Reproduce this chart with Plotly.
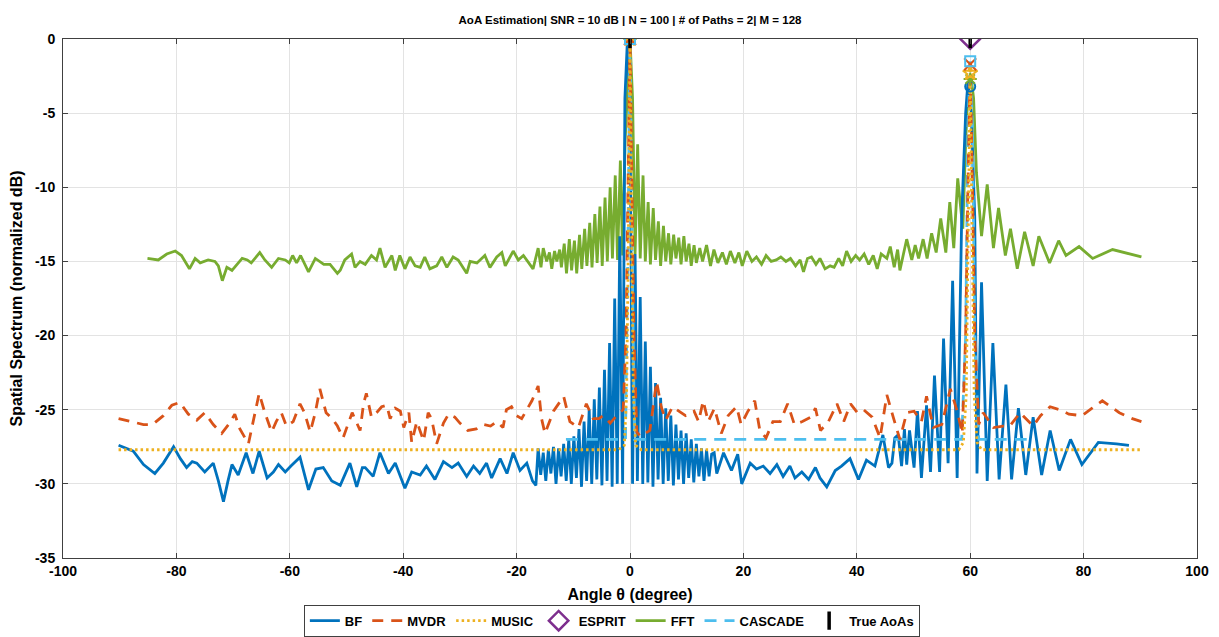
import plotly.graph_objects as go

# ---------------- data ----------------
bf_deg = [-90.2, -88.8, -87.6, -85.8, -83.8, -82.3, -80.5, -79.3, -78.2, -77.2, -76.4, -75.0,
          -73.5, -72.6, -71.7, -70.9, -70.2, -69.1, -67.7, -66.5, -65.4, -64.0, -62.9, -62.0,
          -60.8, -59.8, -58.2, -56.7, -55.4, -54.1, -52.6, -51.1, -49.4, -48.2, -47.2, -46.7,
          -45.3, -44.1, -42.6, -41.4, -39.7, -38.5, -37.0, -35.9, -34.4, -32.9, -31.4, -30.3,
          -28.8, -27.6, -26.5, -25.3, -24.4, -22.9, -21.7, -20.6, -19.4, -18.2, -17.2, -16.6,
          -16.2, -15.75, -15.3, -14.85, -14.4, -13.95, -13.5, -13.05, -12.6, -12.15, -11.7,
          -11.25, -10.8, -10.35, -9.9, -9.45, -9.0, -8.55, -8.1, -7.65, -7.2, -6.75, -6.3,
          -5.85, -5.4, -4.95, -4.5, -4.05, -3.6, -3.15, -2.7, -2.25, -1.8, -1.3, -0.9, -0.45,
          0.0, 0.45, 0.9, 1.3, 1.8, 2.25, 2.7, 3.15, 3.6, 4.05, 4.5, 4.95, 5.4, 5.85, 6.3, 6.75,
          7.2, 7.65, 8.1, 8.55, 9.0, 9.45, 9.9, 10.35, 10.8, 11.25, 11.7, 12.15, 12.6, 13.05,
          13.5, 13.95, 14.4, 14.85, 15.3, 16.5, 17.9, 19.0, 19.7, 21.2, 22.3, 23.5, 24.7, 25.9,
          27.0, 28.2, 29.1, 30.3, 31.5, 32.7, 33.5, 34.7, 36.2, 37.3, 38.8, 40.3, 41.7, 43.2,
          44.6, 45.6, 46.2, 46.7, 47.3, 47.9, 48.4, 48.8, 49.3, 50.1, 50.7, 51.4, 52.3, 53.0,
          53.7, 54.6, 55.3, 56.1, 56.9, 57.7, 58.5, 59.2, 59.6, 60.2, 60.8, 61.2, 62.0, 63.0,
          64.0, 65.1, 66.3, 67.3, 68.5, 69.8, 71.1, 72.6, 74.1, 75.7, 77.7, 79.7, 82.6, 85.8,
          88.0, 90.2]
bf_db = [-27.4, -27.6, -27.8, -28.7, -29.3, -28.6, -27.5, -28.3, -28.9, -28.5, -28.6, -29.2,
         -28.6, -29.8, -31.2, -29.8, -28.7, -29.4, -27.9, -29.3, -27.8, -29.6, -29.2, -28.7,
         -29.2, -28.8, -28.2, -30.4, -29.0, -28.9, -29.8, -30.1, -28.6, -30.2, -28.9, -28.9,
         -29.5, -27.9, -29.3, -28.6, -30.3, -29.2, -29.4, -28.8, -29.7, -28.5, -28.9, -28.6,
         -29.5, -28.8, -29.3, -28.6, -29.6, -28.3, -29.3, -27.9, -29.1, -28.6, -29.8, -30.1,
         -27.6, -29.4, -27.9, -29.8, -27.7, -29.3, -27.5, -30.0, -27.6, -29.5, -27.3,
         -29.8, -27.0, -30.0, -26.8, -29.6, -26.3, -30.2, -25.8, -29.8, -25.0, -30.0,
         -24.3, -29.7, -23.5, -30.1, -22.3, -29.8, -20.5, -30.2, -17.5, -30.0, -13.3, -30.0,
         -4.0, 0.0, -4.0, -30.0, -14.5, -29.8, -17.4, -30.0, -20.4, -29.9, -22.1, -30.2,
         -23.2, -29.7, -24.2, -30.0, -24.9, -29.8, -25.4, -30.1, -26.0, -29.7, -26.4, -30.0,
         -26.6, -29.6, -27.0, -29.9, -27.3, -29.5, -27.6, -29.8, -27.7, -29.5, -28.0, -27.9,
         -29.3, -27.9, -29.1, -28.0, -30.0, -28.6, -29.0, -28.8, -29.3, -28.7, -29.5, -28.8,
         -29.6, -29.2, -29.7, -28.9, -29.6, -30.2, -29.1, -28.8, -28.3, -29.7, -28.4, -28.8,
         -26.7, -28.9, -28.6, -26.9, -26.7, -28.8, -26.3, -28.7, -26.4, -28.9, -25.1, -29.6,
         -24.7, -29.2, -22.7, -29.2, -20.2, -28.6, -16.3, -29.6, -12.0, -5.0, -2.9, -5.0,
         -12.0, -29.3, -16.4, -29.8, -20.5, -29.7, -23.3, -29.7, -24.9, -29.4, -25.5, -29.4,
         -26.4, -29.1, -27.0, -28.7, -27.2, -27.3, -27.4]

mvdr_deg = [-90.2, -87.9, -85.8, -84.2, -82.3, -80.8, -79.4, -77.9, -76.4, -75.0, -73.5, -72.0,
            -70.6, -69.7, -68.8, -67.3, -66.4, -65.4, -64.4, -63.2, -62.4, -61.5, -60.6, -59.4,
            -58.2, -57.4, -56.4, -55.5, -54.7, -53.6, -52.5, -51.6, -50.6, -49.0, -47.6, -47.0,
            -46.5, -45.6, -44.7, -43.8, -42.9, -42.3, -41.4, -40.5, -39.9, -39.0, -38.5, -37.6,
            -36.4, -35.6, -35.0, -34.1, -32.9, -32.0, -30.9, -30.0, -28.6, -27.1, -25.8, -24.6,
            -23.5, -22.4, -21.8, -20.9, -20.0, -19.1, -18.2, -17.3, -16.2, -15.6, -15.0, -13.5,
            -11.7, -10.6, -9.1, -7.7, -6.5, -5.5, -4.7, -3.5, -2.1, -1.2, -0.7, -0.35, 0.0, 0.35,
            0.7, 1.2, 1.8, 3.5, 4.7, 5.5, 6.3, 7.5, 8.9, 9.8, 11.3, 12.1, 12.9, 13.8, 14.9, 16.1,
            17.3, 18.8, 19.6, 20.8, 22.0, 22.9, 24.0, 25.2, 26.5, 27.8, 29.0, 30.4, 31.9, 32.7,
            33.6, 35.0, 36.5, 37.7, 38.9, 40.1, 41.2, 42.7, 44.1, 45.3, 46.5, 47.6, 48.8, 50.1,
            51.4, 52.3, 53.5, 55.0, 56.5, 57.7, 58.6, 59.2, 59.6, 60.0, 60.4, 60.8, 61.5, 62.3,
            64.1, 65.8, 67.0, 68.8, 71.1, 72.4, 74.1, 75.8, 77.4, 79.7, 81.5, 83.3, 86.3, 88.6,
            90.2]
mvdr_db = [-25.6, -25.8, -26.0, -26.0, -25.4, -24.7, -24.5, -25.3, -25.7, -25.2, -26.0, -26.6,
           -25.9, -25.3, -26.3, -27.3, -25.7, -23.9, -25.2, -26.5, -25.8, -25.2, -26.1, -25.8,
           -24.6, -25.2, -26.5, -25.2, -23.6, -25.2, -25.6, -26.1, -26.9, -25.2, -26.4, -24.6,
           -23.9, -25.5, -25.2, -24.8, -24.7, -25.6, -24.9, -25.1, -26.2, -25.2, -27.2, -25.8,
           -27.1, -25.2, -25.6, -27.3, -25.9, -25.3, -25.5, -25.9, -26.4, -26.3, -26.0, -26.1,
           -25.8, -26.2, -25.0, -24.8, -25.4, -25.6, -25.0, -24.4, -23.4, -25.6, -26.6, -25.1,
           -24.1, -25.8, -26.2, -24.6, -25.6, -25.6, -25.4, -25.9, -25.3, -25.0, -20.0, -10.0,
           0.0, -10.0, -20.0, -26.5, -26.8, -26.4, -23.1, -24.8, -25.7, -24.8, -25.2, -25.4,
           -25.1, -25.8, -24.4, -25.8, -24.9, -26.6, -25.4, -24.8, -26.0, -25.1, -24.4, -26.4,
           -26.9, -25.8, -25.8, -24.6, -26.0, -25.8, -25.5, -24.9, -26.4, -25.8, -24.6, -25.8,
           -24.6, -25.2, -25.0, -25.5, -26.9, -24.0, -25.6, -27.0, -25.2, -25.1, -25.8, -24.1,
           -26.2, -26.0, -23.6, -25.1, -26.6, -20.0, -10.0, -1.6, -10.0, -20.0, -26.0, -25.2,
           -26.2, -26.1, -26.1, -25.2, -26.1, -25.4, -24.8, -25.0, -25.3, -25.4, -24.9, -24.4,
           -25.2, -25.6, -25.8]

music_deg = [-90.2, -2.0, -1.0, -0.6, -0.3, 0.0, 0.3, 0.6, 1.0, 2.0, 58.0, 58.8, 59.3, 59.7,
             60.0, 60.3, 60.7, 61.2, 62.0, 90.2]
music_db = [-27.7, -27.7, -27.4, -24.0, -14.0, 0.0, -14.0, -24.0, -27.4, -27.7, -27.7, -27.2,
            -24.0, -12.0, -1.9, -12.0, -24.0, -27.2, -27.7, -27.7]

esprit_deg = [60.0]
esprit_db = [0.0]

fft_deg = [-85.1, -83.2, -81.7, -80.2, -79.1, -77.7, -76.7, -75.8, -74.4, -73.2, -72.6, -71.9,
           -71.1, -70.2, -69.3, -68.4, -67.5, -66.8, -65.3, -64.4, -63.2, -62.0, -60.8, -60.1,
           -59.5, -58.8, -58.1, -56.7, -55.5, -54.0, -52.9, -51.6, -51.1, -50.3, -49.1, -48.5,
           -47.6, -46.7, -45.6, -44.7, -44.1, -43.2, -42.0, -41.4, -40.6, -39.7, -38.8, -37.9,
           -37.0, -36.2, -35.3, -34.1, -33.2, -32.3, -31.2, -30.3, -28.8, -28.2, -27.0, -25.6,
           -24.7, -23.5, -22.6, -22.0, -20.6, -19.7, -18.8, -17.9, -17.1,
           -16.2, -15.7, -15.3, -14.7, -14.2, -13.8, -13.3, -12.9, -12.4, -12.1, -11.6, -11.2,
           -10.7, -10.3, -9.8, -9.4, -8.9, -8.5, -8.0, -7.6, -7.1, -6.7, -6.2, -5.8, -5.3, -4.9,
           -4.4, -4.0, -3.5, -3.1, -2.6, -2.2, -1.7, -1.3, -0.85, -0.45, 0.0, 0.45, 0.9, 1.35,
           1.8, 2.3, 2.7, 3.2, 3.6, 4.1, 4.5, 5.0, 5.4, 5.9, 6.3, 6.8, 7.2, 7.7, 8.1, 8.6, 9.0,
           9.5, 9.9, 10.4, 10.8, 11.3, 11.7, 12.3, 12.8, 13.5, 14.2, 14.8, 15.5, 16.3, 17.0,
           17.7, 18.5, 19.2, 19.8, 20.6, 21.5, 22.3, 23.2, 24.0, 24.9, 25.8, 26.6, 27.5, 28.3,
           29.2, 30.0, 30.6, 31.3, 32.0, 32.8, 33.5, 34.4, 35.3, 36.0, 36.8, 37.5, 38.2, 39.0,
           39.8, 40.5, 41.3, 42.1, 42.9, 43.6, 44.3, 45.3, 45.9, 46.6, 47.2, 47.6, 48.8, 49.7,
           50.3, 50.9, 51.7, 52.4, 53.2, 54.0, 54.8, 55.7, 56.4, 57.1, 57.8, 58.7, 59.2, 59.6,
           60.1, 60.6, 61.1, 62.0, 63.0, 64.1, 65.0, 66.2, 67.1, 68.3, 69.6, 71.1, 72.1, 74.0,
           75.6, 76.9, 79.2, 81.6, 85.1, 90.2]
fft_db = [-14.8, -14.9, -14.5, -14.3, -14.6, -15.5, -14.8, -15.1, -14.9, -15.0, -15.3, -16.3,
          -15.4, -15.6, -15.2, -14.8, -14.9, -15.1, -14.4, -14.9, -15.4, -14.8, -14.9, -15.1,
          -14.6, -15.1, -14.6, -15.7, -14.8, -15.2, -15.2, -15.8, -15.6, -14.9, -14.5, -15.4,
          -15.0, -15.2, -14.6, -14.9, -14.1, -15.4, -14.6, -15.6, -14.6, -15.5, -14.7, -15.3,
          -15.4, -14.7, -15.5, -15.3, -14.7, -15.4, -14.7, -14.9, -15.8, -15.0, -15.1, -14.6,
          -15.4, -14.7, -14.4, -15.3, -14.3, -14.9, -14.6, -15.1, -15.5,
          -14.1, -15.4, -14.1, -15.0, -14.4, -15.5, -14.3, -15.0, -14.2, -15.4, -13.8, -15.8,
          -13.5, -15.6, -13.6, -15.8, -13.2, -15.5, -12.8, -15.3, -12.4, -15.4, -11.8, -15.1,
          -11.3, -15.3, -10.7, -15.0, -10.0, -14.8, -9.2, -14.9, -8.2, -14.6, -6.8, -4.0, 0.0,
          -4.0, -14.5, -7.1, -14.8, -9.2, -15.0, -11.0, -15.2, -11.4, -14.9, -12.3, -15.3,
          -12.6, -15.0, -13.1, -15.2, -13.2, -14.8, -13.4, -15.2, -13.3, -15.0, -13.8, -15.3,
          -13.9, -15.1, -14.1, -15.0, -13.9, -15.3, -14.2, -15.1, -14.4, -15.2, -14.3, -15.1,
          -14.4, -15.3, -14.3, -15.0, -14.7, -15.2, -14.6, -15.0, -14.9, -14.7, -15.0, -14.8,
          -15.3, -14.9, -15.7, -14.8, -14.7, -15.2, -14.8, -15.5, -15.3, -15.4, -14.8, -15.3,
          -14.3, -15.0, -14.6, -14.9, -14.5, -15.2, -14.6, -15.5, -14.5, -14.8, -14.0, -15.4,
          -14.2, -15.6, -13.5, -14.9, -13.9, -14.8, -13.5, -14.8, -13.1, -14.4, -12.1, -14.4,
          -11.0, -14.1, -9.4, -12.8, -7.0, -3.5, -2.4, -4.0, -9.0, -13.3, -9.8, -14.1, -11.4,
          -14.6, -12.8, -15.5, -13.0, -15.3, -13.3, -15.1, -13.6, -14.6, -14.0, -14.8, -14.2,
          -14.7]

cascade_deg = [-11.3, -0.8, -0.4, 0.0, 0.4, 0.8, 58.5, 59.2, 59.6, 60.0, 60.4, 60.8, 61.5, 70.3]
cascade_db = [-27.0, -27.0, -15.0, 0.0, -15.0, -27.0, -27.0, -20.0, -6.0, -1.5, -6.0, -20.0,
              -27.0, -27.0]

true_deg = [0.0, 60.0]
true_db = [0.0, 0.0]

# estimated peak markers of each method (at the two paths)
peak_deg = [0.0, 60.0]
peak_bf = [0.0, -3.2]
peak_mvdr = [0.0, -1.7]
peak_music = [0.0, -2.3]
peak_fft = [0.0, -2.7]
peak_cascade = [0.0, -1.5]

x_ticks = [-100, -80, -60, -40, -20, 0, 20, 40, 60, 80, 100]
y_ticks = [-35, -30, -25, -20, -15, -10, -5, 0]

title_text = "AoA Estimation| SNR = 10 dB | N = 100 | # of Paths = 2| M = 128"

# ---------------- styles ----------------
C_BF = "#0072BD"
C_MVDR = "#D95319"
C_MUSIC = "#EDB120"
C_ESPRIT = "#7E2F8E"
C_FFT = "#77AC30"
C_CASC = "#4DBEEE"
FONT = "Liberation Sans, Arial, sans-serif"
LW = 2.8

# the page adds an 8px body margin, so the figure is drawn 8px smaller
PAGE_OFF = 8
W, H = 1219 - PAGE_OFF, 637 - PAGE_OFF

fig = go.Figure()

fig.add_trace(go.Scatter(x=fft_deg, y=fft_db, mode="lines", name="FFT", legendrank=5,
                         line=dict(color=C_FFT, width=LW)))
fig.add_trace(go.Scatter(x=bf_deg, y=bf_db, mode="lines", name="BF", legendrank=1,
                         line=dict(color=C_BF, width=LW)))
fig.add_trace(go.Scatter(x=cascade_deg, y=cascade_db, mode="lines", name="CASCADE", legendrank=6,
                         line=dict(color=C_CASC, width=LW, dash="12px,8px")))
fig.add_trace(go.Scatter(x=mvdr_deg, y=mvdr_db, mode="lines", name="MVDR", legendrank=2,
                         line=dict(color=C_MVDR, width=LW, dash="11px,8px")))
fig.add_trace(go.Scatter(x=music_deg, y=music_db, mode="lines", name="MUSIC", legendrank=3,
                         line=dict(color=C_MUSIC, width=LW, dash="2.5px,3px")))
fig.add_trace(go.Scatter(x=esprit_deg, y=esprit_db, mode="markers", name="ESPRIT", legendrank=4,
                         marker=dict(symbol="diamond-open", size=15, color=C_ESPRIT,
                                     line=dict(width=2.5, color=C_ESPRIT))))

# peak markers (not in legend)
for vals, col, sym, sz in [(peak_bf, C_BF, "circle-open", 10),
                           (peak_fft, C_FFT, "asterisk-open", 11),
                           (peak_music, C_MUSIC, "star-open", 11),
                           (peak_mvdr, C_MVDR, "x-thin-open", 12),
                           (peak_cascade, C_CASC, "square-open", 10)]:
    fig.add_trace(go.Scatter(x=peak_deg, y=vals, mode="markers", showlegend=False,
                             hoverinfo="skip",
                             marker=dict(symbol=sym, size=sz, color=col,
                                         line=dict(width=2, color=col))))

fig.add_trace(go.Scatter(x=true_deg, y=true_db, mode="markers", name="True AoAs", legendrank=7,
                         marker=dict(symbol="line-ns", size=13, color="black",
                                     line=dict(width=3.5, color="black"))))

axis_common = dict(showline=True, linecolor="#404040", linewidth=1, mirror="ticks",
                   ticks="inside", ticklen=5, tickcolor="#404040", automargin=False,
                   showgrid=True, gridcolor="#e3e3e3", gridwidth=1, zeroline=False,
                   tickfont=dict(family=FONT, size=14, color="black", weight="bold"))

fig.update_xaxes(range=[-100, 100], tickvals=x_ticks, ticktext=[str(v) for v in x_ticks],
                 **axis_common,
                 title=dict(text="Angle θ (degree)", standoff=11,
                            font=dict(family=FONT, size=16, color="black", weight="bold")))
fig.update_yaxes(range=[-35, 0], tickvals=y_ticks, ticktext=[str(v) for v in y_ticks],
                 ticklabelstandoff=4, **axis_common,
                 title=dict(text="Spatial Spectrum (normalized dB)", standoff=9,
                            font=dict(family=FONT, size=16, color="black", weight="bold")))

fig.update_layout(
    width=W, height=H,
    margin=dict(l=63 - PAGE_OFF, r=22, t=39 - PAGE_OFF, b=79, autoexpand=False),
    paper_bgcolor="white", plot_bgcolor="white",
    title=dict(text=title_text, x=0.5, xref="paper", xanchor="center",
               y=1 - (20 - PAGE_OFF) / H, yref="container", yanchor="middle",
               font=dict(family=FONT, size=11.5, color="black", weight="bold")),
    showlegend=True,
    legend=dict(orientation="h", x=0.484, xanchor="center", y=-0.09, yanchor="top",
                bordercolor="#404040", borderwidth=1, bgcolor="white",
                font=dict(family=FONT, size=13, color="black", weight="bold"),
                itemwidth=30, tracegroupgap=0, traceorder="normal"),
)

fig.write_html("out.html")
